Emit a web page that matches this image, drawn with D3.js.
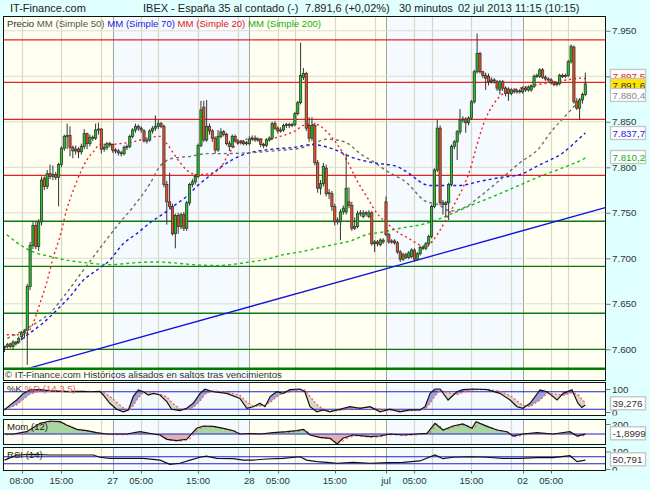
<!DOCTYPE html>
<html>
<head>
<meta charset="utf-8">
<script src="https://cdn.jsdelivr.net/npm/d3@7"></script>
<style>
body { margin: 0; background: #e0ffff; }
svg { display: block; font-family: "Liberation Sans", Arial, sans-serif; }
</style>
</head>
<body>
<svg id="chart" width="650" height="490"></svg>
<script>
// 30 minute bars, first one is 26 jun 05:00, 48 bars a day. [open, high, low, close]
const candles = [
  [7602,7604,7597,7603],[7603,7607,7601,7605],[7606,7607,7601,7603],[7603,7610,7600,7608],[7606,7609,7604,7608],
  [7608,7614,7606,7612],[7614,7620,7610,7618],[7618,7622,7612,7620],[7621,7672,7583,7669],[7669,7718,7665,7714],
  [7714,7740,7710,7736],[7736,7740,7710,7713],[7713,7743,7708,7740],[7740,7790,7736,7786],[7788,7790,7775,7779],
  [7779,7797,7776,7793],[7793,7803,7787,7790],[7790,7802,7786,7792],[7792,7795,7786,7789],[7789,7805,7757,7803],
  [7803,7823,7800,7821],[7821,7836,7818,7834],[7834,7848,7820,7835],[7835,7845,7812,7822],[7822,7824,7810,7818],
  [7818,7824,7814,7820],[7820,7822,7810,7817],[7817,7826,7814,7823],[7823,7842,7820,7837],[7837,7838,7820,7826],
  [7826,7836,7823,7833],[7833,7835,7829,7832],[7832,7848,7830,7841],[7841,7849,7836,7842],[7842,7843,7815,7820],
  [7820,7826,7817,7822],[7822,7828,7819,7826],[7826,7828,7822,7825],[7825,7826,7816,7819],[7819,7821,7815,7818],
  [7818,7820,7813,7816],[7816,7818,7812,7815],[7815,7824,7813,7822],[7822,7825,7819,7823],[7823,7836,7821,7834],
  [7834,7843,7832,7841],[7841,7848,7838,7845],[7845,7847,7840,7843],[7843,7845,7838,7841],[7840,7842,7827,7829],
  [7829,7833,7826,7830],[7830,7842,7828,7840],[7840,7845,7837,7843],[7843,7857,7840,7845],[7845,7852,7842,7848],
  [7848,7850,7843,7845],[7845,7847,7778,7781],[7781,7785,7737,7762],[7762,7794,7755,7757],[7757,7760,7725,7727],
  [7727,7749,7711,7747],[7747,7750,7727,7735],[7735,7750,7732,7748],[7748,7751,7730,7733],[7733,7763,7730,7761],
  [7761,7783,7758,7781],[7781,7787,7778,7784],[7784,7793,7781,7790],[7790,7826,7788,7824],[7824,7873,7822,7863],
  [7866,7873,7828,7830],[7830,7874,7828,7845],[7845,7848,7836,7840],[7840,7842,7828,7832],[7832,7834,7815,7819],
  [7819,7841,7817,7834],[7834,7843,7832,7839],[7839,7841,7834,7836],[7836,7838,7824,7826],[7826,7829,7818,7823],
  [7823,7836,7821,7834],[7834,7836,7827,7829],[7829,7831,7825,7827],[7827,7830,7825,7828],[7828,7830,7824,7826],
  [7826,7829,7824,7827],[7826,7834,7824,7831],[7831,7835,7829,7832],[7832,7835,7828,7830],[7830,7833,7828,7831],
  [7831,7832,7822,7825],[7825,7827,7821,7824],[7824,7832,7822,7830],[7830,7834,7828,7832],[7832,7850,7830,7848],
  [7848,7851,7841,7843],[7843,7845,7837,7840],[7840,7844,7838,7841],[7841,7848,7839,7846],[7846,7849,7843,7847],
  [7847,7849,7843,7846],[7846,7849,7844,7847],[7847,7861,7845,7859],[7859,7873,7857,7871],[7871,7937,7869,7901],
  [7899,7909,7896,7903],[7903,7905,7840,7843],[7846,7855,7828,7832],[7832,7855,7829,7846],[7846,7849,7802,7805],
  [7805,7808,7772,7777],[7777,7786,7770,7782],[7782,7805,7779,7801],[7799,7803,7768,7771],[7771,7776,7765,7772],
  [7771,7774,7752,7757],[7757,7760,7736,7740],[7740,7745,7737,7742],[7740,7754,7720,7751],[7751,7758,7748,7755],
  [7751,7815,7748,7777],[7762,7778,7755,7758],[7758,7762,7730,7733],[7733,7745,7731,7735],[7735,7752,7733,7749],
  [7749,7753,7746,7750],[7746,7753,7744,7750],[7750,7752,7746,7749],[7746,7753,7744,7750],[7750,7752,7714,7716],
  [7716,7720,7707,7718],[7718,7720,7713,7716],[7715,7722,7713,7720],[7720,7722,7716,7718],[7762,7768,7724,7726],
  [7726,7728,7716,7718],[7718,7721,7716,7719],[7719,7721,7715,7717],[7717,7719,7705,7707],[7707,7709,7696,7699],
  [7699,7706,7697,7704],[7704,7706,7699,7701],[7701,7708,7699,7706],[7702,7711,7700,7709],[7709,7711,7696,7699],
  [7699,7707,7697,7705],[7705,7714,7703,7712],[7712,7714,7709,7711],[7711,7718,7709,7716],[7716,7726,7714,7724],
  [7724,7759,7722,7757],[7757,7799,7755,7797],[7797,7852,7795,7843],[7843,7846,7758,7761],[7761,7764,7748,7759],
  [7759,7763,7745,7761],[7761,7783,7742,7781],[7781,7825,7779,7823],[7823,7830,7820,7828],[7828,7841,7808,7839],
  [7839,7864,7836,7852],[7852,7856,7849,7853],[7853,7855,7838,7849],[7849,7856,7846,7854],[7854,7874,7852,7872],
  [7872,7907,7870,7905],[7905,7947,7903,7925],[7925,7927,7903,7905],[7905,7906,7898,7901],[7901,7904,7885,7898],
  [7900,7903,7890,7894],[7894,7899,7892,7896],[7896,7898,7892,7895],[7894,7896,7884,7887],[7885,7896,7880,7894],
  [7894,7896,7884,7887],[7887,7889,7878,7881],[7886,7888,7873,7881],[7881,7887,7879,7885],[7885,7887,7881,7883],
  [7883,7886,7881,7884],[7884,7886,7881,7883],[7883,7889,7881,7887],[7887,7889,7883,7885],[7885,7890,7883,7888],
  [7885,7891,7883,7889],[7889,7902,7887,7900],[7900,7903,7898,7901],[7900,7909,7898,7907],[7907,7909,7897,7899],
  [7899,7901,7895,7897],[7897,7899,7894,7896],[7896,7898,7891,7893],[7893,7895,7889,7891],[7891,7894,7889,7892],
  [7892,7903,7890,7901],[7901,7903,7898,7900],[7900,7903,7898,7901],[7901,7918,7899,7916],[7916,7935,7914,7933],
  [7932,7934,7870,7872],[7872,7876,7863,7865],[7865,7876,7852,7874],[7874,7882,7870,7880],[7880,7904,7878,7891.6]
];

// moving averages: [bar, value]
const ma20 = [[0.8,7616],[7.2,7616],[10.1,7629],[12.5,7651],[14.8,7673],[17.2,7702],[19.5,7724],[21.8,7753],
  [24.2,7775],[26.5,7793],[28.9,7808],[31.2,7817],[33.5,7825],[37,7825],[40.6,7826],[45.3,7828],[50,7832],
  [54.6,7834],[57,7826],[60.5,7810],[64,7797],[67.5,7792],[72.2,7793],[75.7,7799],[79.2,7817],[82.7,7828],
  [87.4,7832],[92.1,7830],[96.8,7834],[101.5,7839],[106.1,7847],[109.6,7847],[113.2,7839],[116.7,7826],
  [120.2,7808],[123.7,7786],[127.2,7768],[130.7,7750],[134.2,7739],[138.9,7727],[141.9,7722],[145,7716],
  [148.3,7713],[150.6,7720],[153,7731],[155.3,7744],[157.6,7757],[161.2,7779],[163.5,7797],[165.8,7823],
  [168.8,7852],[171.7,7869],[175.2,7881],[179.9,7886],[185.7,7890],[191.6,7893],[197.4,7896],[202.7,7898],[204,7897.5]];
const ma50 = [[1,7612],[10.1,7627],[16,7640],[21.8,7662],[27.7,7687],[33.5,7711],[39.4,7735],[45.3,7757],
  [51.1,7782],[54.6,7801],[59.3,7810],[65.2,7812],[71,7815],[74.5,7815],[86.2,7816],[98,7819],[103.8,7821],
  [108.5,7826],[113.2,7831],[116.7,7830],[120.2,7827],[124.9,7815],[129.6,7806],[134.2,7796],[141.3,7783],
  [147.7,7763],[152.4,7759],[156.5,7752],[162.3,7757],[167,7768],[174,7786],[181,7805],[187.5,7820],
  [192.2,7840],[196.9,7856],[201.5,7872],[204,7880.4]];
const ma70 = [[4.3,7607],[9,7618],[13.6,7629],[18.3,7643],[23,7658],[27.7,7676],[32.4,7687],[37,7698],
  [41.7,7716],[46.4,7727],[51.1,7739],[55.8,7749],[60.5,7760],[64,7768],[67.5,7779],[71,7788],[76.3,7801],
  [83.9,7814],[94.4,7820],[102,7822],[107.9,7825],[115.5,7820],[122,7811],[129.6,7805],[137.8,7801],
  [140.7,7796],[149.4,7780],[159.4,7780],[167.6,7785],[174.6,7789],[181,7792],[188.1,7803],[195.7,7815],
  [202.7,7834],[204,7837.7]];
const ma200 = [[0.8,7726],[5.4,7715],[10.1,7707],[16,7702],[21.8,7698],[28.9,7695],[37,7693],[45.3,7695],
  [52.3,7696],[59.3,7695],[66.3,7693],[74.5,7692],[86.2,7696],[92.1,7699],[98,7704],[103.8,7707],
  [109.6,7711],[115.5,7715],[121.4,7719],[127.2,7726],[133.1,7729],[138.9,7733],[147.7,7738],[154.1,7745],
  [162.9,7757],[171.7,7768],[179.9,7779],[188.1,7790],[195.7,7799],[203.3,7809],[204,7810.2]];

const trendLine = [[7.2,7578],[211,7755.6]];
const redLevels = [7940, 7893.4, 7852.7, 7791.2];
const greenLevels = [7740.7, 7691.2, 7639.6, 7600];
const priceTicks = [7600, 7650, 7700, 7750, 7800, 7850, 7900, 7950];

// stochastic [bar, %K, %D]
const stoch = [[0,9,15],[1.9,30,18],[4.3,52,32],[6.6,81,55],[9,96,78],[12.5,97,92],[16,92,95],[22,89,90],
  [27.6,90,90],[30,88,89],[33.5,90,89],[34.7,74,86],[37,38,68],[39.4,12,42],[41.7,1,18],[43.5,9,7],
  [45.2,67,28],[47,96,62],[48.8,88,86],[50.5,74,86],[52.3,81,80],[54.6,74,78],[57,45,66],[58.7,12,42],
  [61.6,6,14],[64,16,9],[66.3,38,20],[68.7,81,48],[70.4,99,78],[73.3,88,92],[78,81,86],[82.7,59,72],
  [85.1,16,44],[87.4,23,25],[89.7,38,26],[91.5,23,30],[93.3,67,42],[95.6,88,66],[97.9,81,82],[100.3,97,88],
  [103.8,100,96],[105.5,88,96],[107.3,23,68],[109.7,1,32],[112,9,12],[114.3,1,5],[117.8,12,7],[121.3,23,14],
  [124.9,16,19],[128.4,23,20],[131.9,1,13],[135.4,12,8],[138.9,1,6],[142.4,9,6],[145.9,9,8],[147.7,23,12],
  [149.5,81,38],[151.2,100,70],[153,100,94],[155.8,52,84],[158.9,88,76],[161,97,86],[164.6,100,96],
  [169.5,97,99],[174,81,90],[177.6,52,72],[180,23,48],[182.1,16,28],[184.6,38,24],[188.1,96,52],
  [190.6,88,82],[194.1,52,78],[196.2,81,72],[199.3,97,84],[201.4,38,76],[202.8,20,56],[204,30,39.276]];
const stochLevels = [12, 88];

const mom = [[0,0],[3.1,0],[7.8,46],[12.5,214],[16,260],[19.5,246],[21.8,180],[25.4,94],[28.9,66],[32.4,26],
  [35.9,0],[38.2,0],[42.9,0],[47.6,46],[52.3,0],[54.6,-20],[57,-106],[60.5,-134],[64,-106],[67.5,114],
  [69.8,160],[73.3,153],[76.9,114],[80.4,66],[82.7,0],[86.2,10],[89.7,0],[94.4,26],[99.1,46],[102.6,66],
  [105,94],[107.3,-20],[110.8,-66],[114.3,-86],[116.8,-200],[118.9,-86],[122.4,-20],[128.4,-54],
  [131.9,-40],[135.4,0],[140,-20],[144.9,0],[148.4,13],[151.2,214],[154,80],[157.5,160],[161,200],
  [164.2,114],[165.6,246],[169.5,153],[173,80],[176.5,46],[178.6,-40],[182.1,0],[187,26],[192.7,0],
  [198.6,46],[201.1,-40],[204,-1.8999]];

const rsi = [[0,51],[4.3,80],[10.1,84],[16,80],[31.2,80],[33.5,67],[37,61],[42.9,61],[48.8,61],[54.6,51],
  [58.1,27],[61.6,33],[65.2,51],[68.7,67],[71,74],[74.5,61],[80.4,59],[83.9,51],[87.4,51],[92.1,57],
  [97.9,61],[103.8,70],[106.1,51],[109.7,42],[114.3,36],[116.8,33],[122.4,38],[128.4,33],[134.4,36],
  [140,38],[145.9,46],[151.2,80],[154,59],[157.5,67],[163.5,70],[169.5,67],[175.1,61],[181.1,61],
  [187,65],[192.7,65],[198.6,76],[201.1,42],[204,50.791]];
const rsiLevels = [30, 70];

const dayLines = [38, 86, 134, 182];
const hourLines = [6, 20, 34, 48, 54, 68, 82, 96, 102, 116, 130, 144, 150, 164, 178, 192, 198];
const timeTicks = [[6,"08:00"],[20,"15:00"],[38,"27"],[48,"05:00"],[68,"15:00"],[86,"28"],[96,"05:00"],
  [116,"15:00"],[134,"jul"],[144,"05:00"],[164,"15:00"],[182,"02"],[192,"05:00"]];

// ---------------------------------------------------------------
const loc = d3.formatLocale({decimal: ",", thousands: ".", grouping: [3], currency: ["", ""], minus: "-"});
const fInt = loc.format(",d"), f1 = loc.format(",.1f"), f3 = loc.format(",.3f"), f4 = loc.format(",.4f");

const svg = d3.select("#chart");
const defs = svg.append("defs");
svg.append("rect").attr("width", 650).attr("height", 490).attr("fill", "#e0ffff");

const L = 3.5, R = 605.5;
const main = {top: 16.5, plot: 367.5, bottom: 380.5};
const kP = {top: 382.5, bottom: 415.5};
const mP = {top: 419.5, bottom: 444.5};
const rP = {top: 447.5, bottom: 470.5};

const x = d3.scaleLinear().domain([0, candles.length - 1]).range([4.5, 585.3]);
const y = d3.scaleLinear().domain([7600, 7950]).range([349.3, 30.8]);
const yK = d3.scaleLinear().domain([0, 100]).range([412, 389]);
const yM = d3.scaleLinear().domain([0, 200]).range([434, 424]);
const yR = d3.scaleLinear().domain([0, 100]).range([469, 451.5]);

function clip(id, x0, y0, w, h) {
  defs.append("clipPath").attr("id", id).append("rect")
    .attr("x", x0).attr("y", y0).attr("width", w).attr("height", h);
  return "url(#" + id + ")";
}

// day bands + vertical grid for a panel
function panelBack(top, bottom) {
  const edges = [L].concat(dayLines.map(d => x(d)), [R]);
  const g = svg.append("g");
  for (let i = 0; i < edges.length - 1; i++) {
    g.append("rect").attr("x", edges[i]).attr("y", top)
      .attr("width", edges[i + 1] - edges[i]).attr("height", bottom - top)
      .attr("fill", i % 2 == 0 ? "#fffff2" : "#f5faff");
  }
  g.selectAll(".hl").data(hourLines).enter().append("line")
    .attr("x1", d => Math.round(x(d)) + 0.5).attr("x2", d => Math.round(x(d)) + 0.5)
    .attr("y1", top).attr("y2", bottom)
    .attr("stroke", "#d8d8c6").attr("stroke-width", 1.2);
  g.selectAll(".dl").data(dayLines).enter().append("line")
    .attr("x1", d => Math.round(x(d)) + 0.5).attr("x2", d => Math.round(x(d)) + 0.5)
    .attr("y1", top).attr("y2", bottom)
    .attr("stroke", "#a4a49c").attr("stroke-width", 1);
  return g;
}

function panelBorder(top, bottom) {
  svg.append("rect").attr("x", L).attr("y", top).attr("width", R - L).attr("height", bottom - top)
    .attr("fill", "none").attr("stroke", "#111").attr("stroke-width", 1);
}

function hLines(g, vals, scale, color, w) {
  g.selectAll(null).data(vals).enter().append("line")
    .attr("x1", L).attr("x2", R)
    .attr("y1", d => scale(d)).attr("y2", d => scale(d))
    .attr("stroke", color).attr("stroke-width", w);
}

function valueBox(yc, text, color, fill) {
  svg.append("rect").attr("x", 610.5).attr("y", yc - 6.5).attr("width", 35).attr("height", 13)
    .attr("fill", fill).attr("stroke", "#c4c4c4").attr("stroke-width", 1.3);
  svg.append("text").attr("x", 612.5).attr("y", yc + 3.6).attr("font-size", 9.8)
    .attr("fill", color).text(text);
}

function rightAxis(scale, vals, fmt, top, bottom, id) {
  svg.append("g").attr("clip-path", clip(id, 605, top, 45, bottom - top))
    .append("g").attr("transform", "translate(" + R + ",0)")
    .call(d3.axisRight(scale).tickValues(vals).tickFormat(fmt).tickSize(5).tickPadding(1.5))
    .call(g => g.select(".domain").remove())
    .call(g => g.selectAll("line").attr("stroke", "#777"))
    .call(g => g.selectAll("text").attr("font-size", 9.8).attr("fill", "#333")
      .attr("font-family", "Liberation Sans, Arial, sans-serif"));
}

// ---------------- title ----------------
const last = candles[candles.length - 1][3];
const title = svg.append("g").attr("font-size", 11).attr("fill", "#222");
title.append("text").attr("x", 10).attr("y", 12).text("IT-Finance.com");
title.append("text").attr("x", 143).attr("y", 12).text("IBEX - España 35 al contado (-)");
title.append("text").attr("x", 305).attr("y", 12).text(f1(last) + " (+0,02%)");
title.append("text").attr("x", 399).attr("y", 12).text("30 minutos");
title.append("text").attr("x", 458).attr("y", 12).text("02 jul 2013 11:15 (10:15)");

// ---------------- main panel ----------------
const gm = panelBack(main.top, main.bottom);
hLines(gm, priceTicks, y, "#dcdccc", 1);

const plot = svg.append("g").attr("clip-path", clip("cMain", L, main.top, R - L, main.plot - main.top));
hLines(plot, redLevels, y, "#e62222", 1.2);
hLines(plot, greenLevels, y, "#0b7a0b", 1.3);

plot.append("line")
  .attr("x1", x(trendLine[0][0])).attr("y1", y(trendLine[0][1]))
  .attr("x2", x(trendLine[1][0])).attr("y2", y(trendLine[1][1]))
  .attr("stroke", "#1212dd").attr("stroke-width", 1.3);

const maLine = d3.line().x(d => x(d[0])).y(d => y(d[1])).curve(d3.curveMonotoneX);
const maDefs = [
  [ma200, "#14c014", "3,3"],
  [ma70, "#1a1ae6", "3,3"],
  [ma50, "#6e6e6e", "3,3"],
  [ma20, "#ee2020", "2,3"]
];
maDefs.forEach(m => {
  plot.append("path").attr("d", maLine(m[0])).attr("fill", "none")
    .attr("stroke", m[1]).attr("stroke-width", 1.4).attr("stroke-dasharray", m[2]);
});

// candles
const cg = plot.append("g");
cg.selectAll(".wick").data(candles).enter().append("line")
  .attr("x1", (d, i) => x(i)).attr("x2", (d, i) => x(i))
  .attr("y1", d => y(d[1])).attr("y2", d => y(d[2]))
  .attr("stroke", "#333").attr("stroke-width", 1);
cg.selectAll(".body").data(candles).enter().append("rect")
  .attr("x", (d, i) => x(i) - 1.1).attr("width", 2.2)
  .attr("y", d => y(Math.max(d[0], d[3])))
  .attr("height", d => Math.max(1, Math.abs(y(d[0]) - y(d[3]))))
  .attr("fill", d => d[3] >= d[0] ? "#1ccc1c" : "#ff4c1c")
  .attr("stroke", "#333").attr("stroke-width", 0.8);

svg.append("line").attr("x1", L).attr("x2", R).attr("y1", 368.7).attr("y2", 368.7)
  .attr("stroke", "#007a00").attr("stroke-width", 2.6);

// legend
const leg = svg.append("text").attr("x", 7).attr("y", 27).attr("font-size", 9.6);
leg.append("tspan").attr("fill", "#333").text("Precio ");
leg.append("tspan").attr("fill", "#555").text("MM (Simple 50) ");
leg.append("tspan").attr("fill", "#1a1ae6").text("MM (Simple 70) ");
leg.append("tspan").attr("fill", "#e02020").text("MM (Simple 20) ");
leg.append("tspan").attr("fill", "#10b010").text("MM (Simple 200)");

svg.append("text").attr("x", 5).attr("y", 378).attr("font-size", 9.6).attr("fill", "#333")
  .text("© IT-Finance.com  Históricos alisados en saltos tras vencimientos");

panelBorder(main.top, main.bottom);
rightAxis(y, priceTicks, fInt, main.top, main.bottom + 4, "cAx");

// price boxes
const yClose = y(last);
let yRed = y(ma20[ma20.length - 1][1]);
if (yClose - yRed < 8) yRed = yClose - 8;
let yGray = y(ma50[ma50.length - 1][1]);
if (yGray - yClose < 11) yGray = yClose + 11;
valueBox(yRed, f1(ma20[ma20.length - 1][1]), "#e02020", "#fff");
valueBox(yClose + 1, f1(last), "#333", "#ffe600");
valueBox(yGray, f1(ma50[ma50.length - 1][1]), "#888", "#fff");
valueBox(y(ma70[ma70.length - 1][1]), f1(ma70[ma70.length - 1][1]), "#1a1ae6", "#fff");
valueBox(y(ma200[ma200.length - 1][1]) - 1, f1(ma200[ma200.length - 1][1]), "#10b010", "#fff");

// ---------------- stochastic ----------------
const gk = panelBack(kP.top, kP.bottom);
const kg = svg.append("g").attr("clip-path", clip("cK", L, kP.top, R - L, kP.bottom - kP.top));
const aboveD = d3.area().x(d => x(d[0])).y0(kP.top).y1(d => yK(d[2]));
const belowD = d3.area().x(d => x(d[0])).y0(kP.bottom).y1(d => yK(d[2]));
defs.append("clipPath").attr("id", "cAboveD").append("path").attr("d", aboveD(stoch));
defs.append("clipPath").attr("id", "cBelowD").append("path").attr("d", belowD(stoch));
kg.append("path").attr("clip-path", "url(#cAboveD)")
  .attr("d", d3.area().x(d => x(d[0])).y0(kP.bottom).y1(d => yK(d[1]))(stoch))
  .attr("fill", "#9ea1d8");
kg.append("path").attr("clip-path", "url(#cBelowD)")
  .attr("d", d3.area().x(d => x(d[0])).y0(kP.top).y1(d => yK(d[1]))(stoch))
  .attr("fill", "#ddd4c8");
hLines(kg, stochLevels, yK, "#2222cc", 1.2);
kg.append("path").attr("d", d3.line().x(d => x(d[0])).y(d => yK(d[2]))(stoch))
  .attr("fill", "none").attr("stroke", "#f06262").attr("stroke-width", 1.3).attr("stroke-dasharray", "2,2");
kg.append("path").attr("d", d3.line().x(d => x(d[0])).y(d => yK(d[1]))(stoch))
  .attr("fill", "none").attr("stroke", "#111").attr("stroke-width", 1.2);
const kl = svg.append("text").attr("x", 7).attr("y", 392).attr("font-size", 9.6);
kl.append("tspan").attr("fill", "#222").text("%K ");
kl.append("tspan").attr("fill", "#e06060").text("%D (14 3 5)");
panelBorder(kP.top, kP.bottom);
rightAxis(yK, [0, 100], fInt, kP.top, kP.bottom, "cKax");
valueBox(403.3, f3(stoch[stoch.length - 1][2]), "#333", "#fff");

// ---------------- momentum ----------------
panelBack(mP.top, mP.bottom);
const mg = svg.append("g").attr("clip-path", clip("cM", L, mP.top, R - L, mP.bottom - mP.top));
const momArea = d3.area().x(d => x(d[0])).y0(yM(0)).y1(d => yM(d[1]));
mg.append("path").attr("clip-path", clip("cMup", L, mP.top, R - L, yM(0) - mP.top))
  .attr("d", momArea(mom)).attr("fill", "#a9d6a0");
mg.append("path").attr("clip-path", clip("cMdn", L, yM(0), R - L, mP.bottom - yM(0)))
  .attr("d", momArea(mom)).attr("fill", "#e0b2b2");
hLines(mg, [0], yM, "#2222cc", 1.2);
mg.append("path").attr("d", d3.line().x(d => x(d[0])).y(d => yM(d[1]))(mom))
  .attr("fill", "none").attr("stroke", "#f06262").attr("stroke-width", 1.2).attr("stroke-dasharray", "2,3")
  .attr("transform", "translate(2,0.6)");
mg.append("path").attr("d", d3.line().x(d => x(d[0])).y(d => yM(d[1]))(mom))
  .attr("fill", "none").attr("stroke", "#111").attr("stroke-width", 1.2);
svg.append("text").attr("x", 7).attr("y", 430).attr("font-size", 9.6).attr("fill", "#222").text("Mom (12)");
panelBorder(mP.top, mP.bottom);
rightAxis(yM, [200], fInt, mP.top, mP.bottom, "cMax");
valueBox(433.3, f4(mom[mom.length - 1][1]), "#333", "#fff");

// ---------------- RSI ----------------
panelBack(rP.top, rP.bottom);
const rg = svg.append("g").attr("clip-path", clip("cR", L, rP.top, R - L, rP.bottom - rP.top));
hLines(rg, rsiLevels, yR, "#2222cc", 1.2);
rg.append("path").attr("d", d3.line().x(d => x(d[0])).y(d => yR(d[1]))(rsi))
  .attr("fill", "none").attr("stroke", "#111").attr("stroke-width", 1.2);
svg.append("text").attr("x", 7).attr("y", 457.5).attr("font-size", 9.6).attr("fill", "#222").text("RSI (14)");
panelBorder(rP.top, rP.bottom);
rightAxis(yR, [0, 100], fInt, rP.top, rP.bottom, "cRax");
valueBox(459.3, f3(rsi[rsi.length - 1][1]), "#333", "#fff");

// ---------------- time axis ----------------
const tg = svg.append("g").attr("font-size", 9.6).attr("fill", "#333").attr("text-anchor", "middle");
tg.selectAll("line").data(timeTicks).enter().append("line")
  .attr("x1", d => Math.round(x(d[0])) + 0.5).attr("x2", d => Math.round(x(d[0])) + 0.5)
  .attr("y1", rP.bottom).attr("y2", rP.bottom + 3).attr("stroke", "#666");
tg.selectAll("text").data(timeTicks).enter().append("text")
  .attr("x", d => x(d[0])).attr("y", 483.5).text(d => d[1]);
</script>
</body>
</html>
